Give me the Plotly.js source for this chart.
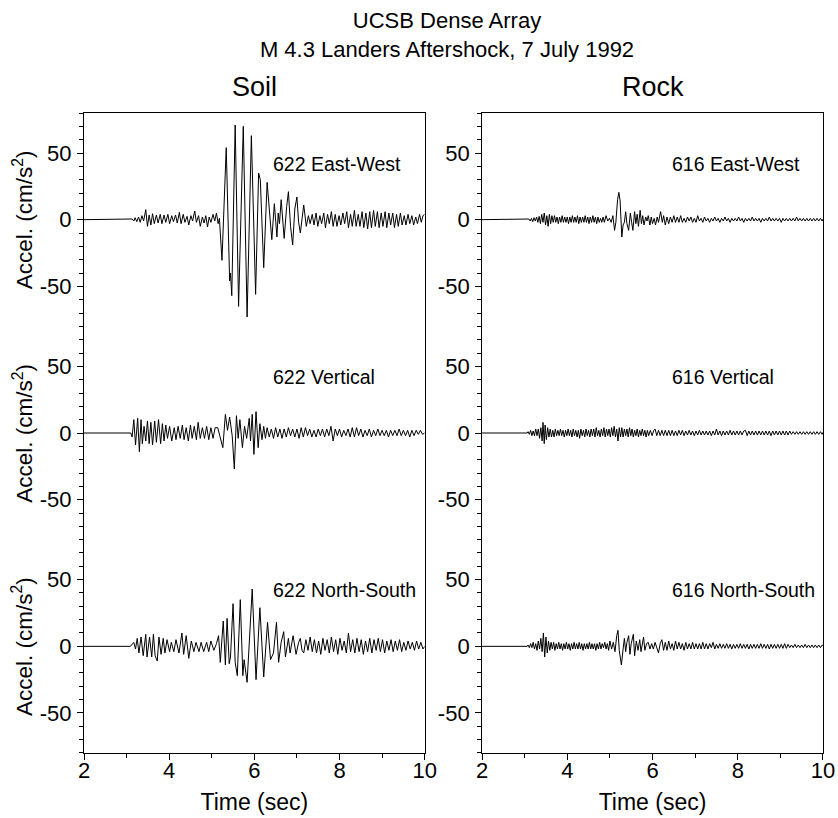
<!DOCTYPE html>
<html>
<head>
<meta charset="utf-8">
<script src="https://cdn.plot.ly/plotly-3.0.1.min.js"></script>
<style>html,body{margin:0;padding:0;background:#fff;}#chart{width:838px;height:818px;}</style>
</head>
<body>
<div id="chart"></div>
<script>
// ---- Soil station 622, East-West (time s, accel cm/s^2) ----
var soilEW_t = [2.0,3.10,3.13,3.17,3.20,3.24,3.28,3.32,3.36,3.40,3.45,3.49,3.53,3.57,3.61,3.65,3.70,3.74,3.79,3.83,3.88,3.92,3.97,4.01,4.06,4.10,4.15,4.19,4.24,4.28,4.33,4.37,4.42,4.46,4.51,4.55,4.60,4.64,4.69,4.73,4.78,4.82,4.86,4.90,4.94,4.98,5.03,5.07,5.11,5.15,5.18,5.24,5.34,5.42,5.44,5.47,5.55,5.63,5.74,5.83,5.93,6.03,6.10,6.14,6.22,6.30,6.38,6.41,6.47,6.53,6.56,6.59,6.63,6.70,6.76,6.80,6.85,6.90,6.95,7.00,7.04,7.08,7.16,7.22,7.27,7.31,7.36,7.40,7.45,7.49,7.54,7.58,7.63,7.67,7.72,7.76,7.81,7.85,7.90,7.94,7.99,8.03,8.08,8.12,8.17,8.21,8.26,8.30,8.35,8.39,8.44,8.48,8.53,8.57,8.62,8.66,8.71,8.75,8.80,8.84,8.89,8.93,8.98,9.02,9.07,9.11,9.16,9.20,9.25,9.29,9.34,9.38,9.43,9.47,9.52,9.56,9.61,9.65,9.70,9.74,9.79,9.83,9.88,9.92,9.96,10.0];
var soilEW_a = [0,0,0.5,-1,1.5,-1.5,2,-2,3,-1,7.5,-5,3.5,-4,4.5,-3,3.5,-2.5,4,-3,3.5,-2,4,-3,3,-1.5,3.5,-2.5,5.5,-3,4,-2,2.5,-4,3,-1,6.5,-2,3,-5,2,-2.5,3,-5.5,2,-2,4,-1,5,-3,1,-30.5,54,-46,-40,-57,71,-65,70,-73,63,-56,35,30,-36,28,-5,-15,12,-13,5,-3,15,-14,10,21,-5,-19,8,17,-2,-10,11,-5,3,-3,4,-4,5,-5,3,-3,5,-6,4,-3,6,-5,4,-5,3,-4,5,-3,6,-6,4,-5,7,-5,4,-5,6,-6,5,-7,6,-6,7,-5,6,-6,5,-5,6,-6,5,-4,5,-6,4,-5,5,-4,3,-4,4,-3,3,-4,2,-3,4,-2,3,4];

// ---- Soil station 622, Vertical ----
var soilZ_t = [2.0,3.10,3.13,3.17,3.21,3.26,3.30,3.34,3.37,3.41,3.45,3.49,3.53,3.57,3.61,3.66,3.70,3.75,3.80,3.84,3.88,3.92,3.96,4.01,4.06,4.12,4.16,4.21,4.26,4.31,4.35,4.40,4.45,4.50,4.54,4.59,4.64,4.68,4.73,4.78,4.83,4.88,4.93,4.98,5.03,5.08,5.14,5.20,5.26,5.32,5.37,5.42,5.48,5.53,5.58,5.62,5.66,5.72,5.77,5.82,5.88,5.91,5.95,5.99,6.04,6.09,6.13,6.18,6.22,6.26,6.30,6.35,6.40,6.45,6.50,6.55,6.60,6.65,6.70,6.75,6.80,6.85,6.90,6.95,7.00,7.05,7.10,7.15,7.20,7.25,7.30,7.35,7.40,7.45,7.50,7.55,7.60,7.65,7.70,7.75,7.80,7.85,7.90,7.95,8.00,8.05,8.10,8.15,8.20,8.25,8.30,8.35,8.40,8.45,8.50,8.55,8.60,8.65,8.70,8.75,8.80,8.85,8.90,8.95,9.00,9.05,9.10,9.15,9.20,9.25,9.30,9.35,9.40,9.45,9.50,9.55,9.60,9.65,9.70,9.75,9.80,9.85,9.90,9.95,10.0];
var soilZ_a = [0,0,-3,10,-9,11,-14,10,-8,5,-6,9,-8,8,-9,9,-7,10,-8,7,-6,6,-4,5,-6,4,-5,5,-4,6,-5,4,-6,6,-4,5,-5,8,-4,4,-4,5,-5,4,-4,4,4,-3,-11,14,2,12,-2,-27,13,-4,10,-11,5,-4,11,-6,14,-16,16,-11,7,-5,5,-4,4,-3,3,-4,4,-3,3,-4,3,-3,4,-2,3,-3,3,-4,4,-3,4,-2,3,-3,2,-3,3,-2,3,-3,3,-2,5,-6,3,-2,3,-3,2,-2,3,-3,4,-3,4,-2,3,-3,2,-2,3,-3,2,-2,3,-2,2,-2,2,-3,2,-2,2,-2,3,-2,2,-2,2,-3,2,-2,2,-1,2,-1,0];

// ---- Soil station 622, North-South ----
var soilNS_t = [2.0,3.09,3.17,3.21,3.25,3.29,3.34,3.39,3.45,3.48,3.54,3.59,3.63,3.67,3.72,3.76,3.81,3.86,3.90,3.95,4.01,4.05,4.11,4.16,4.23,4.30,4.34,4.40,4.46,4.52,4.58,4.63,4.70,4.75,4.81,4.88,4.93,4.98,5.05,5.11,5.16,5.20,5.27,5.32,5.36,5.41,5.44,5.50,5.55,5.60,5.67,5.73,5.76,5.83,5.95,6.04,6.13,6.22,6.31,6.38,6.45,6.52,6.57,6.63,6.69,6.73,6.80,6.84,6.91,6.98,7.04,7.08,7.12,7.16,7.21,7.26,7.31,7.36,7.41,7.46,7.51,7.56,7.61,7.66,7.71,7.76,7.81,7.86,7.91,7.96,8.01,8.06,8.11,8.16,8.21,8.26,8.31,8.36,8.41,8.46,8.51,8.56,8.61,8.66,8.71,8.76,8.81,8.86,8.91,8.96,9.01,9.06,9.11,9.16,9.21,9.26,9.31,9.36,9.41,9.46,9.51,9.56,9.61,9.66,9.71,9.76,9.81,9.86,9.91,9.96,10.0];
var soilNS_a = [0,0,3,-2,6,-5,7,-7,9,-8,7,-8,9,-7,-11,7,-6,6,-5,5,-4,3,-4,5,-5,10,-6,8,-9,4,-4,3,-4,3,-4,3,-4,4,-3,2,8,-12,19,-14,21,-13,-8,32,-12,-22,35,-22,-10,-27,43,-25,29,-23,18,-10,-5,18,-12,3,11,-8,6,-5,8,-6,3,6,-3,-5,5,-3,7,-4,5,-5,4,-6,6,-3,5,-5,7,-4,5,-6,6,-3,4,-5,10,-4,5,-5,6,-4,5,-6,4,-4,6,-5,5,-3,6,-4,5,-5,4,-3,5,-4,4,-3,5,-4,3,-3,4,-2,3,-3,4,-2,3,-2,0];

// ---- Rock station 616, East-West ----
var rockEW_t = [
  2.0,3.08,3.10,3.13,3.16,3.19,3.22,3.25,3.28,3.31,
  3.34,3.37,3.40,3.43,3.46,3.49,3.52,3.55,3.58,3.61,
  3.64,3.67,3.70,3.73,3.76,3.79,3.82,3.85,3.88,3.91,
  3.94,3.97,4.00,4.03,4.06,4.09,4.12,4.15,4.18,4.21,
  4.24,4.27,4.30,4.33,4.36,4.39,4.42,4.45,4.48,4.51,
  4.54,4.57,4.60,4.63,4.66,4.69,4.72,4.75,4.78,4.81,
  4.84,4.87,4.91,4.95,4.99,5.03,5.07,5.11,5.14,5.18,
  5.21,5.24,5.28,5.31,5.34,5.37,5.40,5.44,5.48,5.51,
  5.54,5.58,5.61,5.64,5.67,5.71,5.74,5.77,5.80,5.84,
  5.87,5.90,5.94,5.97,6.00,6.04,6.07,6.11,6.14,6.19,
  6.23,6.26,6.30,6.34,6.38,6.42,6.46,6.50,6.54,6.58,
  6.62,6.66,6.70,6.74,6.78,6.82,6.86,6.90,6.94,6.98,
  7.02,7.06,7.10,7.14,7.18,7.22,7.26,7.30,7.34,7.38,
  7.42,7.46,7.50,7.54,7.58,7.62,7.66,7.70,7.74,7.78,
  7.82,7.86,7.90,7.94,7.98,8.02,8.06,8.10,8.14,8.18,
  8.22,8.26,8.30,8.34,8.38,8.42,8.46,8.50,8.54,8.58,
  8.62,8.66,8.70,8.74,8.78,8.82,8.86,8.90,8.94,8.98,
  9.02,9.06,9.10,9.14,9.18,9.22,9.26,9.30,9.34,9.38,
  9.42,9.46,9.50,9.54,9.58,9.62,9.66,9.70,9.74,9.78,
  9.82,9.86,9.90,9.94,9.98,10.0];
var rockEW_a = [
  0,0,0.5,-1,1,-1.5,1.5,-1,2,-2,
  2.5,-3,4,-2,5,-4,3,-5,4,-3,
  3,-2,3,-2,2,-3,2,-2,3,-2,
  2,-2,2,-3,2,-2,3,-2,2,-2,
  3,-3,2,-2,2,-2,3,-2,2,-3,
  2,-2,3,-2,2,-3,2,-2,1,-2,
  2,-2,3,-1,1,-2,3,-8,-2,15,
  20.5,14,-13,-4,-2,6,-3,-8,5,-2,
  -8,6,-3,4,-5,7,-3,3,-4,2,
  -1,3,-4,2,-3,1,-4,2,-2,6,
  -2,3,-4,2,-3,2,-2,3,-2,2,
  -2,3,-2,1,-2,2,-1,2,-2,1,
  -2,3,-1,1,-2,2,-1,1,-2,1,
  -1,2,-1,1,-2,1,-1,2,-1,1,
  -2,1,-1,1,-1,2,-1,1,-2,1,
  -1,1,-1,2,-1,1,-1,1,-2,1,
  -1,1,-1,2,-1,1,-1,1,-1,1,
  -2,1,-1,1,-1,1,-1,1,-1,2,
  -1,1,-1,1,-1,1,-1,1,-1,1,
  -1,1,-1,1,-1,0.5];

// ---- Rock station 616, Vertical ----
var rockZ_t = [
  2.0,3.06,3.08,3.11,3.14,3.17,3.20,3.23,3.26,3.29,
  3.32,3.35,3.38,3.41,3.43,3.46,3.48,3.51,3.54,3.57,
  3.60,3.63,3.66,3.69,3.72,3.75,3.78,3.81,3.84,3.87,
  3.90,3.93,3.96,3.99,4.02,4.05,4.08,4.11,4.14,4.17,
  4.20,4.23,4.26,4.29,4.32,4.35,4.38,4.41,4.44,4.47,
  4.50,4.53,4.56,4.59,4.62,4.65,4.68,4.71,4.74,4.77,
  4.80,4.83,4.86,4.89,4.92,4.95,4.98,5.01,5.04,5.07,
  5.10,5.13,5.16,5.19,5.22,5.25,5.28,5.31,5.34,5.37,
  5.40,5.43,5.46,5.49,5.52,5.55,5.58,5.61,5.64,5.67,
  5.70,5.73,5.76,5.79,5.82,5.85,5.88,5.91,5.95,5.99,
  6.03,6.06,6.10,6.14,6.18,6.22,6.26,6.30,6.34,6.38,
  6.42,6.46,6.50,6.54,6.58,6.62,6.66,6.70,6.74,6.78,
  6.82,6.86,6.90,6.94,6.98,7.02,7.06,7.10,7.14,7.18,
  7.22,7.26,7.30,7.34,7.38,7.42,7.46,7.50,7.54,7.58,
  7.62,7.66,7.70,7.74,7.78,7.82,7.86,7.90,7.94,7.98,
  8.02,8.06,8.10,8.14,8.18,8.22,8.26,8.30,8.34,8.38,
  8.42,8.46,8.50,8.54,8.58,8.62,8.66,8.70,8.74,8.78,
  8.82,8.86,8.90,8.94,8.98,9.02,9.06,9.10,9.14,9.18,
  9.22,9.26,9.30,9.34,9.38,9.42,9.46,9.50,9.54,9.58,
  9.62,9.66,9.70,9.74,9.78,9.82,9.86,9.90,9.94,9.98,
  10.0];
var rockZ_a = [
  0,0,1,-1,2,-2,1.5,-2,3,-2,
  3,-4,4,-6,8,-8,6,-5,4,-3,
  3,-3,2,-3,3,-2,2,-2,3,-2,
  2,-3,2,-2,3,-2,2,-3,3,-2,
  2,-3,2,-4,3,-2,2,-3,3,-2,
  2,-3,3,-2,3,-3,4,-2,2,-3,
  3,-2,4,-3,3,-2,3,-3,4,-2,
  5,-3,3,-6,4,-3,4,-3,3,-2,
  3,-3,4,-2,3,-3,2,-2,3,-3,
  2,-2,3,-2,2,-3,2,-2,2,-2,
  2,3,-2,2,-2,2,-2,2,-2,2,
  -2,2,-2,1.5,-2,2,-1.5,2,-2,1.5,
  -1.5,2,-1.5,1.5,-2,1.5,-1.5,2,-1.5,1.5,
  -1.5,1.5,-1.5,1.5,-2,1.5,-1.5,3,-1.5,1.5,
  -2,1.5,-1.5,1.5,-1.5,2,-1.5,1.5,-1.5,1.5,
  -1.5,1.5,-1.5,1.5,2,-2,1.5,-1.5,1.5,-1.5,
  1.5,-1.5,1.5,-1.5,1.5,-1.5,1.5,-1.5,1.5,-2,
  1.5,-1.5,1.5,-1.5,1.5,-1.5,1.5,-1.5,1.5,-1.5,
  1.5,-1,1,-1,1,-1,1,-1,1,-1,
  1,-1,1,-1,1,-1,1,-1,1,-1,
  0.5];

// ---- Rock station 616, North-South ----
var rockNS_t = [
  2.0,3.06,3.08,3.11,3.14,3.17,3.20,3.23,3.26,3.29,
  3.32,3.35,3.38,3.41,3.44,3.47,3.50,3.53,3.56,3.59,
  3.62,3.65,3.68,3.71,3.74,3.77,3.80,3.83,3.86,3.89,
  3.92,3.95,3.98,4.01,4.04,4.07,4.10,4.13,4.16,4.19,
  4.22,4.25,4.28,4.31,4.34,4.37,4.40,4.43,4.46,4.49,
  4.52,4.55,4.58,4.61,4.64,4.67,4.70,4.73,4.76,4.79,
  4.82,4.85,4.88,4.91,4.94,4.97,5.00,5.04,5.08,5.12,
  5.16,5.19,5.22,5.27,5.31,5.34,5.37,5.40,5.44,5.47,
  5.50,5.55,5.58,5.62,5.66,5.70,5.73,5.76,5.79,5.82,
  5.86,5.90,5.94,5.98,6.02,6.06,6.10,6.14,6.18,6.22,
  6.26,6.30,6.34,6.38,6.42,6.46,6.50,6.54,6.58,6.62,
  6.66,6.70,6.74,6.78,6.82,6.86,6.90,6.94,6.98,7.02,
  7.06,7.10,7.14,7.18,7.22,7.26,7.30,7.34,7.38,7.42,
  7.46,7.50,7.54,7.58,7.62,7.66,7.70,7.74,7.78,7.82,
  7.86,7.90,7.94,7.98,8.02,8.06,8.10,8.14,8.18,8.22,
  8.26,8.30,8.34,8.38,8.42,8.46,8.50,8.54,8.58,8.62,
  8.66,8.70,8.74,8.78,8.82,8.86,8.90,8.94,8.98,9.02,
  9.06,9.10,9.14,9.18,9.22,9.26,9.30,9.34,9.38,9.42,
  9.46,9.50,9.54,9.58,9.62,9.66,9.70,9.74,9.78,9.82,
  9.86,9.90,9.94,9.98,10.0];
var rockNS_a = [
  0,0,1,-1,2,-1,3,-2,2,-3,
  4,-2,6,-4,10,-8,7,-5,4,-3,
  3,-2,3,-3,2,-2,3,-2,2,-3,
  2,-2,3,-2,2,-3,2,-2,3,-2,
  2,-2,3,-2,2,-3,2,-2,2,-2,
  3,-2,2,-2,2,-3,2,-2,3,-2,
  2,-1,3,-2,2,-3,4,-2,3,-4,
  8,12,-3,-14,-2,6,-4,3,8,-6,
  2,9,-7,4,-3,5,-4,2,7,-3,
  2,3,-2,2,-2,3,-2,-5,2,5,
  -3,3,-3,4,-2,2,-3,4,-2,3,
  -2,2,-3,3,-2,2,-2,3,-2,2,
  -2,2,-2,3,-2,2,-2,2,-1,3,
  -2,1.5,-1.5,2,-1.5,1.5,-1.5,2,-1.5,1.5,
  -2,1.5,-1.5,1.5,-1.5,2,-1.5,1.5,-1.5,1.5,
  -2,1.5,-1.5,1.5,-1.5,1.5,-1.5,2,-1.5,1.5,
  -1.5,1.5,-2,1.5,-1.5,1.5,-1.5,1.5,-1.5,1.5,
  -1.5,2,-1.5,1.5,-1,1,-1,1.5,-1,1,
  -1,1,-1,1.5,-1,1,-1,1,-1,1,
  -1,1,-1,1,0.5];

var panelLabels = ["622 East-West","616 East-West","622 Vertical","616 Vertical","622 North-South","616 North-South"];
var columnTitles = ["Soil","Rock"];
var yTickVals = [-50,0,50];
var yTickText = ["-50","0","50"];
var xTickVals = [2,4,6,8,10];

var FONT = "Liberation Sans, Arial, Helvetica, sans-serif";
var series = [
  [soilEW_t, soilEW_a], [rockEW_t, rockEW_a],
  [soilZ_t, soilZ_a],   [rockZ_t, rockZ_a],
  [soilNS_t, soilNS_a], [rockNS_t, rockNS_a]
];

var traces = [];
var layout = {
  width: 838, height: 818,
  margin: {l: 84.3, r: 14.7, t: 113.3, b: 64.7, pad: 0},
  paper_bgcolor: "#fff", plot_bgcolor: "#fff",
  showlegend: false,
  font: {family: FONT, color: "#000", size: 21},
  title: {
    text: "UCSB Dense Array<br>M 4.3 Landers Aftershock, 7 July 1992",
    x: 447/838, xref: "container", xanchor: "center",
    y: 1 - 28/818, yref: "container", yanchor: "top",
    font: {family: FONT, size: 22, color: "#000"}
  },
  annotations: []
};

var xDomains = [[0, 0.461], [0.5386, 1]];
var yDomains = [[2/3, 1], [1/3, 2/3], [0, 1/3]];

for (var i = 0; i < 6; i++) {
  var row = Math.floor(i / 2), col = i % 2;
  var n = i + 1;
  var xa = "xaxis" + (n === 1 ? "" : n), ya = "yaxis" + (n === 1 ? "" : n);
  var xr = "x" + (n === 1 ? "" : n), yr = "y" + (n === 1 ? "" : n);
  traces.push({
    x: series[i][0], y: series[i][1], xaxis: xr, yaxis: yr,
    type: "scatter", mode: "lines",
    line: {color: "#000", width: 1}, hoverinfo: "skip"
  });
  var xax = {
    domain: xDomains[col], anchor: yr, range: [2, 10],
    showgrid: false, zeroline: false, fixedrange: true
  };
  if (row === 2) {
    Object.assign(xax, {
      showline: true, linecolor: "#000", linewidth: 1,
      ticks: "outside", ticklen: 6, tickwidth: 1, tickcolor: "#000",
      ticklabelstandoff: -8,
      tickvals: xTickVals, tickfont: {family: FONT, size: 22, color: "#000"},
      minor: {dtick: 1, tick0: 2, ticks: "outside", ticklen: 4, tickwidth: 1, tickcolor: "#000"},
      title: {text: "Time (sec)", font: {family: FONT, size: 23, color: "#000"}, standoff: 11}
    });
  } else if (row === 0) {
    Object.assign(xax, {side: "top", showline: true, linecolor: "#000", linewidth: 1,
      ticks: "", showticklabels: false});
  } else {
    Object.assign(xax, {showline: false, ticks: "", showticklabels: false});
  }
  layout[xa] = xax;
  layout[ya] = {
    domain: yDomains[row], anchor: xr, range: [-80, 80],
    showgrid: false, zeroline: false, fixedrange: true,
    showline: true, mirror: true, linecolor: "#000", linewidth: 1,
    ticks: "outside", ticklen: 6, tickwidth: 1, tickcolor: "#000",
    ticklabelstandoff: 1,
    tickvals: yTickVals, ticktext: yTickText,
    tickfont: {family: FONT, size: 22, color: "#000"},
    minor: {dtick: 10, tick0: 0, ticks: "outside", ticklen: 4, tickwidth: 1, tickcolor: "#000"}
  };
  layout.annotations.push({
    text: panelLabels[i], xref: xr, yref: yr, x: 6.4, y: 42,
    xanchor: "left", yanchor: "middle", showarrow: false,
    font: {family: FONT, size: 19.5, color: "#000"}
  });
  if (col === 0) {
    layout.annotations.push({
      text: "Accel. (cm/s<sup>2</sup>)", xref: "paper", yref: "paper",
      x: (23 - 84.3) / 739, y: (yDomains[row][0] + yDomains[row][1]) / 2,
      xanchor: "center", yanchor: "middle", textangle: -90, showarrow: false,
      font: {family: FONT, size: 22.5, color: "#000"}
    });
  }
}
for (var c = 0; c < 2; c++) {
  layout.annotations.push({
    text: columnTitles[c], xref: "paper", yref: "paper",
    x: (xDomains[c][0] + xDomains[c][1]) / 2, y: 1 + (113.3 - 87) / 640,
    xanchor: "center", yanchor: "middle", showarrow: false,
    font: {family: FONT, size: 27, color: "#000"}
  });
}

Plotly.newPlot("chart", traces, layout, {staticPlot: true, displayModeBar: false});
</script>
</body>
</html>
